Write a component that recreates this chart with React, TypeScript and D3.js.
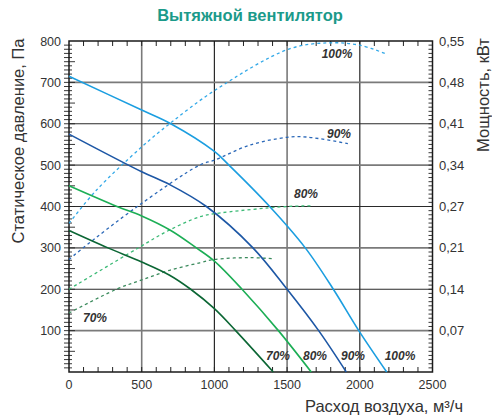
import { useRef, useEffect } from 'react';
import * as d3 from 'd3';

type Pt = [number, number];

// pressure curves, Pa vs m3/h
const pressure100: Pt[] = [[0, 715], [500, 633], [700, 600], [1000, 533], [1100, 500], [1380, 400], [1625, 300], [1818, 200], [1993, 100], [2185, 0]];
const pressure90: Pt[] = [[0, 575], [500, 484], [692, 453], [945, 400], [1265, 300], [1500, 200], [1717, 100], [1907, 0]];
const pressure80: Pt[] = [[0, 450], [330, 400], [500, 377], [700, 342], [876, 300], [1000, 268], [1190, 200], [1440, 100], [1666, 0]];
const pressure70: Pt[] = [[0, 342], [268, 300], [500, 266], [692, 234], [837, 200], [1000, 153], [1146, 100], [1405, 0]];

// power curves, kW vs m3/h
const power100: Pt[] = [[0, 0.247], [188, 0.302], [500, 0.374], [692, 0.4125], [1000, 0.4675], [1517, 0.537], [1800, 0.547], [2000, 0.543], [2187, 0.528]];
const power90: Pt[] = [[0, 0.187], [96, 0.206], [470, 0.275], [900, 0.344], [1000, 0.352], [1243, 0.377], [1500, 0.39], [1632, 0.3905], [1918, 0.3795]];
const power80: Pt[] = [[0, 0.1375], [475, 0.206], [692, 0.236], [900, 0.258], [1000, 0.263], [1500, 0.275], [1670, 0.276]];
const power70: Pt[] = [[0, 0.098], [326, 0.1375], [500, 0.153], [692, 0.169], [900, 0.1815], [1000, 0.187], [1243, 0.19], [1414, 0.188]];

const xTicks = [0, 500, 1000, 1500, 2000, 2500];
const yTicks = [100, 200, 300, 400, 500, 600, 700, 800];
const powerTickLabels = ['0,07', '0,14', '0,21', '0,27', '0,34', '0,41', '0,48', '0,55'];

const colors = {
  c100: '#1b9ee0',
  c90: '#1d57a5',
  c80: '#1cae55',
  c70: '#0b6634',
  d100: '#33a9e8',
  d90: '#2b68b8',
  d80: '#3cba76',
  d70: '#3a8a5c',
};

const FONT = "'Liberation Sans', Arial, sans-serif";

export default function App() {
  const svgRef = useRef<SVGSVGElement>(null);
  const width = 492;
  const height = 418;

  useEffect(() => {
    const svg = d3.select(svgRef.current);
    svg.selectAll('*').remove();

    const x = d3.scaleLinear().domain([0, 2500]).range([69, 432.5]);
    const y = d3.scaleLinear().domain([0, 800]).range([372, 41]);
    const yP = d3.scaleLinear().domain([0, 0.55]).range([372, 41]);

    svg.append('rect').attr('width', width).attr('height', height).attr('fill', '#fff');

    // Title
    svg.append('text').attr('x', 250).attr('y', 21).attr('text-anchor', 'middle')
      .attr('fill', '#1b9a8a').attr('font-size', 16.5).attr('font-weight', 'bold')
      .attr('font-family', FONT).text('Вытяжной вентилятор');

    // Grid
    [500, 1000, 1500, 2000].forEach((v, i) => {
      svg.append('line').attr('x1', x(v)).attr('x2', x(v)).attr('y1', y(800)).attr('y2', y(0))
        .attr('stroke', i % 2 === 0 ? '#7a7a7a' : '#2a2a2a').attr('stroke-width', i % 2 === 0 ? 1.6 : 1.2);
    });
    [100, 200, 300, 400, 500, 600, 700].forEach(v => {
      const gray = v % 200 === 100;
      svg.append('line').attr('x1', x(0)).attr('x2', x(2500)).attr('y1', y(v)).attr('y2', y(v))
        .attr('stroke', gray ? '#7a7a7a' : '#2a2a2a').attr('stroke-width', gray ? 1.6 : 1.2);
    });

    // Minor ticks x (top + bottom, inward)
    d3.range(100, 2500, 100).forEach(v => {
      svg.append('line').attr('x1', x(v)).attr('x2', x(v)).attr('y1', y(0)).attr('y2', y(0) - 5)
        .attr('stroke', '#222').attr('stroke-width', 1);
      svg.append('line').attr('x1', x(v)).attr('x2', x(v)).attr('y1', y(800)).attr('y2', y(800) + 5)
        .attr('stroke', '#222').attr('stroke-width', 1);
    });
    // Minor ticks left axis
    d3.range(10, 800, 10).forEach(v => {
      const major = v % 50 === 0;
      svg.append('line').attr('x1', x(0) - 5).attr('x2', x(0) + (major ? 6 : 3))
        .attr('y1', y(v)).attr('y2', y(v)).attr('stroke', '#222').attr('stroke-width', 0.9);
    });
    // Minor ticks right axis
    d3.range(10, 800, 10).forEach(v => {
      svg.append('line').attr('x1', x(2500) - 4).attr('x2', x(2500))
        .attr('y1', y(v)).attr('y2', y(v)).attr('stroke', '#222').attr('stroke-width', 0.9);
    });

    // Frame
    svg.append('rect').attr('x', x(0)).attr('y', y(800))
      .attr('width', x(2500) - x(0)).attr('height', y(0) - y(800))
      .attr('fill', 'none').attr('stroke', '#1a1a1a').attr('stroke-width', 1.5);

    const curve = d3.curveCatmullRom.alpha(0.5);
    const lineP = d3.line<Pt>().x(d => x(d[0])).y(d => y(d[1])).curve(curve);
    const lineW = d3.line<Pt>().x(d => x(d[0])).y(d => yP(d[1])).curve(curve);

    // Power (dashed)
    [
      { data: power100, c: colors.d100 },
      { data: power90, c: colors.d90 },
      { data: power80, c: colors.d80 },
      { data: power70, c: colors.d70 },
    ].forEach(s => {
      svg.append('path').datum(s.data).attr('d', lineW).attr('fill', 'none')
        .attr('stroke', s.c).attr('stroke-width', 1.3).attr('stroke-dasharray', '3,3');
    });

    // Pressure (solid)
    [
      { data: pressure100, c: colors.c100 },
      { data: pressure90, c: colors.c90 },
      { data: pressure80, c: colors.c80 },
      { data: pressure70, c: colors.c70 },
    ].forEach(s => {
      svg.append('path').datum(s.data).attr('d', lineP).attr('fill', 'none')
        .attr('stroke', s.c).attr('stroke-width', 1.6);
    });

    // Curve labels
    const labels: { t: string; x: number; y: number }[] = [
      { t: '100%', x: 337, y: 58 },
      { t: '90%', x: 339, y: 138 },
      { t: '80%', x: 306, y: 198 },
      { t: '70%', x: 95, y: 322 },
      { t: '70%', x: 278, y: 360 },
      { t: '80%', x: 315, y: 360 },
      { t: '90%', x: 353, y: 360 },
      { t: '100%', x: 400, y: 360 },
    ];
    labels.forEach(l => {
      svg.append('text').attr('x', l.x).attr('y', l.y).attr('text-anchor', 'middle')
        .attr('font-size', 12).attr('font-weight', 'bold').attr('font-style', 'italic')
        .attr('fill', '#333').attr('font-family', FONT).text(l.t);
    });

    // Tick labels
    xTicks.forEach(v => {
      svg.append('text').attr('x', x(v)).attr('y', 389).attr('text-anchor', 'middle')
        .attr('font-size', 12.5).attr('fill', '#333').attr('font-family', FONT).text(String(v));
    });
    yTicks.forEach(v => {
      svg.append('text').attr('x', 61).attr('y', y(v) + 4.5).attr('text-anchor', 'end')
        .attr('font-size', 12.5).attr('fill', '#333').attr('font-family', FONT).text(String(v));
    });
    powerTickLabels.forEach((t, i) => {
      svg.append('text').attr('x', 439).attr('y', y((i + 1) * 100) + 4.5).attr('text-anchor', 'start')
        .attr('font-size', 13).attr('fill', '#333').attr('font-family', FONT).text(t);
    });

    // Axis titles
    svg.append('text').attr('x', 463).attr('y', 412).attr('text-anchor', 'end')
      .attr('font-size', 16.5).attr('fill', '#333').attr('font-family', FONT).text('Расход воздуха, м³/ч');
    svg.append('text').attr('transform', 'translate(24,141) rotate(-90)').attr('text-anchor', 'middle')
      .attr('font-size', 16.5).attr('fill', '#333').attr('font-family', FONT).text('Статическое давление, Па');
    svg.append('text').attr('transform', 'translate(489,95) rotate(-90)').attr('text-anchor', 'middle')
      .attr('font-size', 16.5).attr('fill', '#333').attr('font-family', FONT).text('Мощность, кВт');
  }, []);

  return (
    <svg ref={svgRef} width={width} height={height}
      style={{ position: 'absolute', left: 0, top: 0, display: 'block' }} />
  );
}
